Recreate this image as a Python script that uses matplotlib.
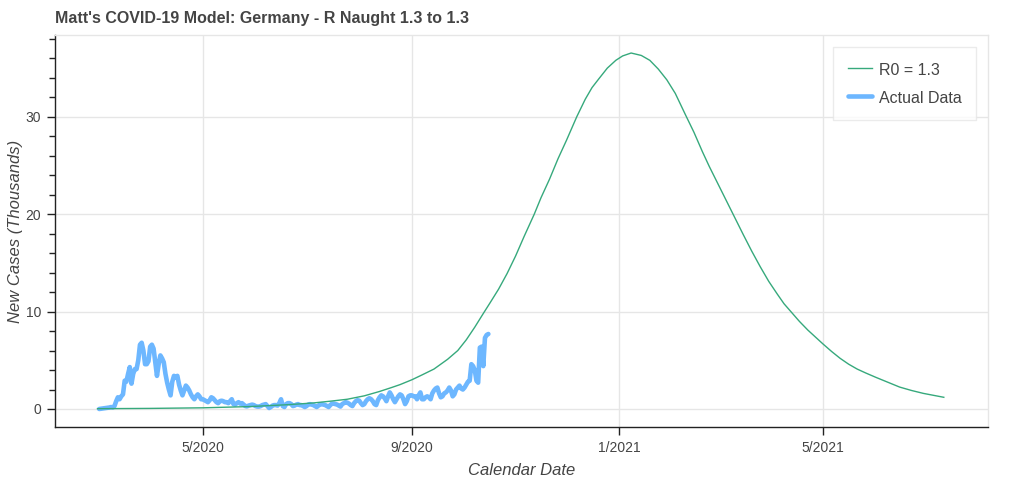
import matplotlib
matplotlib.use("Agg")
import matplotlib.pyplot as plt
from matplotlib.ticker import MultipleLocator
import pandas as pd

plt.rcParams['font.family'] = ['Liberation Sans', 'DejaVu Sans']

title = "Matt's COVID-19 Model: Germany - R Naught 1.3 to 1.3"
x_label = "Calendar Date"
y_label = "New Cases (Thousands)"
model_label = "R0 = 1.3"
actual_label = "Actual Data"

# Model curve (thousands of new cases)
model_dates = ["2020-02-29", "2020-03-31", "2020-05-01", "2020-05-29", "2020-06-21",
               "2020-07-05", "2020-07-15", "2020-07-25", "2020-08-04", "2020-08-13",
               "2020-08-20", "2020-08-25", "2020-09-01", "2020-09-07", "2020-09-14",
               "2020-09-22", "2020-09-28", "2020-10-03", "2020-10-08", "2020-10-13",
               "2020-10-17", "2020-10-22", "2020-10-27", "2020-11-01", "2020-11-06",
               "2020-11-12", "2020-11-16", "2020-11-21", "2020-11-26", "2020-12-01",
               "2020-12-07", "2020-12-12", "2020-12-16", "2020-12-20", "2020-12-25",
               "2020-12-30", "2021-01-03", "2021-01-08", "2021-01-14", "2021-01-19",
               "2021-01-24", "2021-01-29", "2021-02-03", "2021-02-09", "2021-02-14",
               "2021-02-19", "2021-02-23", "2021-03-01", "2021-03-05", "2021-03-09",
               "2021-03-15", "2021-03-20", "2021-03-25", "2021-03-30", "2021-04-04",
               "2021-04-08", "2021-04-12", "2021-04-17", "2021-04-22", "2021-04-27",
               "2021-05-01", "2021-05-06", "2021-05-11", "2021-05-16", "2021-05-21",
               "2021-05-26", "2021-06-01", "2021-06-08", "2021-06-15", "2021-06-22",
               "2021-06-29", "2021-07-05", "2021-07-11"]
model_values = [0.03, 0.06, 0.12, 0.25, 0.45,
                0.62, 0.8, 1.0, 1.35, 1.8,
                2.2, 2.5, 3.0, 3.5, 4.1,
                5.1, 6.0, 7.1, 8.4, 9.8,
                10.9, 12.3, 13.9, 15.7, 17.7,
                20.0, 21.7, 23.6, 25.7, 27.6,
                30.0, 31.8, 33.0, 33.9, 35.0,
                35.8, 36.25, 36.55, 36.3, 35.8,
                34.9, 33.8, 32.4, 30.2, 28.4,
                26.4, 24.9, 22.8, 21.4, 20.0,
                17.9, 16.2, 14.6, 13.1, 11.8,
                10.8, 10.0, 9.0, 8.1, 7.3,
                6.66, 5.9, 5.2, 4.6, 4.1,
                3.7, 3.25, 2.75, 2.25, 1.9,
                1.6, 1.4, 1.2]

# Actual daily new cases (thousands), starting 2020-03-01
actual_start = "2020-03-01"
actual_values = [
    # March
    0.0, 0.02, 0.05, 0.08, 0.1, 0.12, 0.15, 0.2, 0.15, 0.3,
    0.8, 1.2, 1.0, 1.3, 1.5, 2.9, 2.8, 3.6, 4.3, 2.6,
    3.6, 4.1, 4.1, 5.0, 6.6, 6.8, 6.0, 4.6, 4.6, 4.9,
    6.4,
    # April
    6.6, 6.2, 4.8, 3.4, 4.6, 5.5, 5.2, 4.8, 3.6, 2.7,
    2.0, 1.4, 2.8, 3.4, 3.2, 3.4, 2.5, 1.9, 1.4, 1.9,
    2.4, 2.2, 1.9, 1.5, 1.2, 1.0, 1.3, 1.5, 1.3, 1.0,
    # May
    1.0, 0.9, 0.8, 0.7, 0.9, 1.2, 1.1, 0.9, 0.7, 0.6,
    0.8, 0.85, 0.8, 0.7, 0.7, 0.6, 0.8, 1.0, 0.5, 0.45,
    0.6, 0.7, 0.55, 0.6, 0.45, 0.3, 0.27, 0.35, 0.4, 0.45,
    0.4,
    # June
    0.3, 0.25, 0.25, 0.3, 0.4, 0.45, 0.5, 0.3, 0.1, 0.2,
    0.35, 0.4, 0.4, 0.35, 0.6, 1.0, 0.3, 0.2, 0.5, 0.6,
    0.6, 0.5, 0.3, 0.35, 0.45, 0.5, 0.4, 0.4, 0.3, 0.2,
    # July
    0.3, 0.45, 0.5, 0.45, 0.4, 0.3, 0.2, 0.35, 0.45, 0.5,
    0.45, 0.4, 0.3, 0.2, 0.4, 0.55, 0.55, 0.5, 0.45, 0.35,
    0.25, 0.5, 0.6, 0.7, 0.65, 0.55, 0.4, 0.3, 0.6, 0.8,
    0.9,
    # August
    0.85, 0.6, 0.4, 0.5, 0.8, 1.0, 1.1, 1.0, 0.8, 0.5,
    0.4, 0.9, 1.2, 1.4, 1.3, 1.1, 0.8, 1.3, 1.7, 1.4,
    1.0, 0.7, 1.0, 1.3, 1.5, 1.4, 1.0, 0.5, 0.8, 1.3,
    1.4,
    # September
    1.4, 1.3, 1.3, 1.0, 1.4, 1.7, 1.0, 1.0, 1.2, 1.3,
    1.2, 1.0, 1.6, 1.9, 2.1, 2.2, 1.6, 1.2, 1.3, 1.6,
    1.7, 1.9, 2.2, 1.9, 1.3, 1.5, 2.0, 2.2, 2.4, 2.1,
    # October
    2.0, 2.2, 2.5, 2.8, 2.9, 4.6, 4.4, 4.0, 2.9, 2.7,
    6.3, 6.4, 4.4, 7.3, 7.6, 7.7,
]

x_ticks = ["2020-05-01", "2020-09-01", "2021-01-01", "2021-05-01"]
x_tick_labels = ["5/2020", "9/2020", "1/2021", "5/2021"]
y_ticks = [0, 10, 20, 30]

green = "#36a97c"
blue = "#6db7ff"
text_col = "#444444"

L, R, T, B = 55, 988, 35, 427
fig = plt.figure(figsize=(10.24, 4.82), dpi=100)
ax = fig.add_axes([L/1024, 1-B/482, (R-L)/1024, (B-T)/482])

md = pd.to_datetime(model_dates)
ad = pd.date_range(actual_start, periods=len(actual_values), freq="D")

ax.plot(md, model_values, color=green, lw=1.0, label=model_label, zorder=3)
ax.plot(ad, actual_values, color=blue, lw=3.3, label=actual_label, zorder=2,
        solid_joinstyle="round", solid_capstyle="round")

ax.set_xlim(pd.Timestamp("2020-02-04"), pd.Timestamp("2021-08-06"))
ax.set_ylim(-1.85, 38.4)

ax.set_xticks(pd.to_datetime(x_ticks))
ax.set_xticklabels(x_tick_labels)
ax.set_yticks(y_ticks)
ax.yaxis.set_minor_locator(MultipleLocator(2))

ax.grid(True, which="major", color="#e6e6e6", lw=1.0)
ax.set_axisbelow(True)

for s in ["top", "right"]:
    ax.spines[s].set_color("#e6e6e6")
    ax.spines[s].set_linewidth(1.0)
for s in ["left", "bottom"]:
    ax.spines[s].set_color("#222222")
    ax.spines[s].set_linewidth(1.0)

ax.tick_params(axis="both", which="major", length=6, width=1, color="#222222",
               labelsize=10, labelcolor=text_col, pad=4)
ax.tick_params(axis="y", which="minor", length=4, width=1, color="#222222")

ax.set_xlabel(x_label, fontsize=12, fontstyle="italic", color=text_col, labelpad=6)
ax.set_ylabel(y_label, fontsize=12, fontstyle="italic", color=text_col, labelpad=2)

fig.text(L/1024, 1-18/482, title, fontsize=11.5, fontweight="bold", color=text_col,
         ha="left", va="center")

leg = ax.legend(loc="upper right",
                bbox_to_anchor=((976 - L) / (R - L), 1 - (47 - T) / (B - T)),
                bbox_transform=ax.transAxes, borderaxespad=0.0,
                frameon=True, fontsize=11.5, borderpad=0.9, labelspacing=0.7,
                handlelength=1.5, handleheight=1.2, handletextpad=0.45,
                fancybox=False)
leg.get_frame().set_edgecolor("#e6e6e6")
leg.get_frame().set_linewidth(1.0)
for t in leg.get_texts():
    t.set_color(text_col)

fig.savefig("out.png", dpi=100)
